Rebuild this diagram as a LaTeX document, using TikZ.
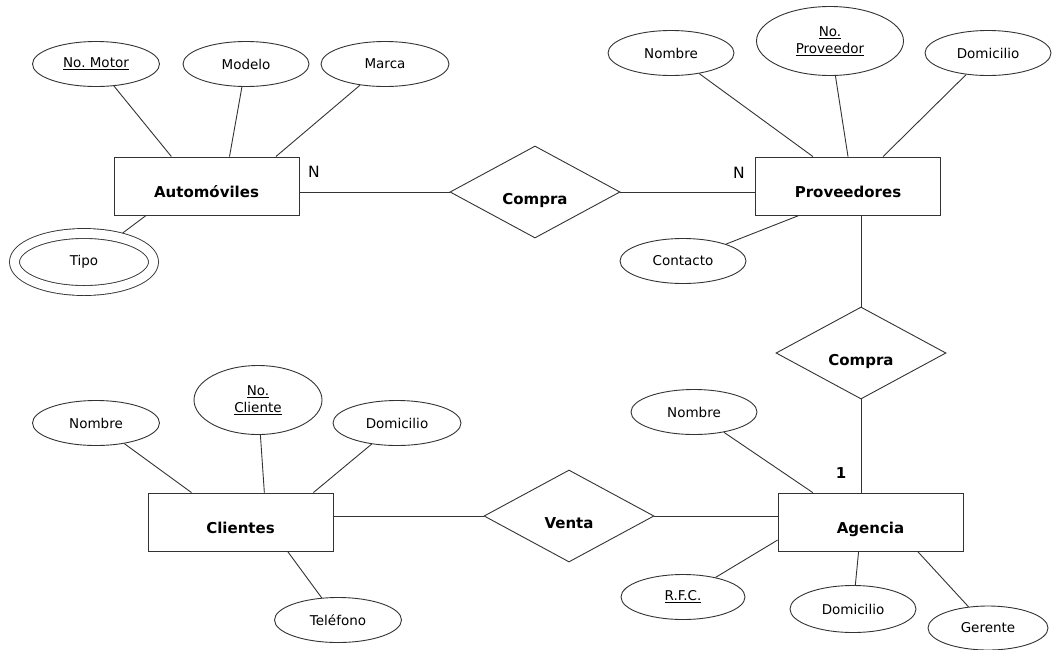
\documentclass[tikz,border=0pt]{standalone}
\usepackage{fontspec}
\setmainfont{DejaVu Sans}
\usepackage{tikz}
\usetikzlibrary{shapes.geometric}

\tikzset{
  entidad/.style={rectangle, draw=black!80, line width=0.9pt, minimum width=185pt, minimum height=58pt, inner sep=0pt, text height=23pt, text depth=0pt, font=\fontsize{15}{18}\selectfont\bfseries},
  relacion/.style={diamond, draw=black!80, line width=0.9pt, minimum width=170pt, minimum height=92pt, inner sep=0pt, text height=25pt, text depth=0pt, font=\fontsize{15}{18}\selectfont\bfseries},
  atributo/.style={ellipse, draw=black!80, line width=0.9pt, minimum width=126pt, minimum height=45pt, inner sep=0pt, align=center, font=\fontsize{13.5}{17}\selectfont},
  multivaluado/.style={atributo, double, double distance=9pt, minimum width=139pt, minimum height=57pt, outer sep=5.4pt},
  enlace/.style={black!80, line width=0.9pt},
  cardinal/.style={font=\fontsize{15.5}{18}\selectfont}
}

\begin{document}
\begin{tikzpicture}[x=1pt, y=-1pt]
\useasboundingbox (0,0) rectangle (1052,649);

\node[entidad] (auto) at (206.5,186) {Automóviles};
\node[entidad] (prov) at (848,186) {Proveedores};
\node[entidad] (clientes) at (240.5,522) {Clientes};
\node[entidad] (agencia) at (870.5,522) {Agencia};

\node[relacion] (compraA) at (535,192) {Compra};
\node[relacion] (compraB) at (861,353) {Compra};
\node[relacion] (venta) at (569,516) {Venta};

\node[atributo, minimum width=127pt] (motor) at (96,64) {\underline{No.\ Motor}};
\node[atributo] (modelo) at (246,64) {Modelo};
\node[atributo, minimum width=128pt] (marca) at (385,64) {Marca};
\node[multivaluado] (tipo) at (84,262) {Tipo};

\node[atributo] (provNombre) at (671,53) {Nombre};
\node[atributo, minimum width=147pt, minimum height=69pt] (provNumero) at (830,41) {\underline{No.}\\\underline{Proveedor}};
\node[atributo] (provDomicilio) at (988,53) {Domicilio};
\node[atributo] (provContacto) at (683,261) {Contacto};

\node[atributo, minimum width=127pt] (cliNombre) at (96,423) {Nombre};
\node[atributo, minimum width=128pt, minimum height=69pt] (cliNumero) at (258,400) {\underline{No.}\\\underline{Cliente}};
\node[atributo, minimum width=128pt] (cliDomicilio) at (397,423) {Domicilio};
\node[atributo, minimum width=127pt] (cliTelefono) at (338,620) {Teléfono};

\node[atributo] (agNombre) at (694,412) {Nombre};
\node[atributo, minimum width=124pt] (agRFC) at (683,597) {\underline{R.F.C.}};
\node[atributo, minimum height=47pt] (agDomicilio) at (853,609) {Domicilio};
\node[atributo, minimum width=120pt, minimum height=44pt] (agGerente) at (988,628) {Gerente};

\node[cardinal] (cardAuto) at (314,172) {N};
\node[cardinal] (cardProv) at (739,173) {N};
\node[cardinal, font=\fontsize{15}{18}\selectfont\bfseries] (cardAgencia) at (841,473) {1};

\draw[enlace] (compraA.west) -- (compraA.west -| auto.east);
\draw[enlace] (compraA.east) -- (compraA.east -| prov.west);
\draw[enlace] (compraB.north) -- (compraB.north |- prov.south);
\draw[enlace] (compraB.south) -- (compraB.south |- agencia.north);
\draw[enlace] (venta.west) -- (venta.west -| clientes.east);
\draw[enlace] (venta.east) -- (venta.east -| agencia.west);

\draw[enlace] (motor) -- (auto.140);
\draw[enlace] (modelo) -- (auto.52);
\draw[enlace] (marca) -- (auto.23);
\draw[enlace] (tipo) -- (auto.206);

\draw[enlace] (provNombre) -- (prov.140);
\draw[enlace] (provNumero) -- (prov.90);
\draw[enlace] (provDomicilio) -- (prov.40);
\draw[enlace] (provContacto) -- (prov.211);

\draw[enlace] (cliNombre) -- (clientes.149);
\draw[enlace] (cliNumero) -- (clientes.51);
\draw[enlace] (cliDomicilio) -- (clientes.22);
\draw[enlace] (cliTelefono) -- (clientes.-32);

\draw[enlace] (agNombre) -- (agencia.153);
\draw[enlace] (agRFC) -- (agencia.191);
\draw[enlace] (agDomicilio) -- (agencia.248);
\draw[enlace] (agGerente) -- (agencia.-32);

\end{tikzpicture}
\end{document}
